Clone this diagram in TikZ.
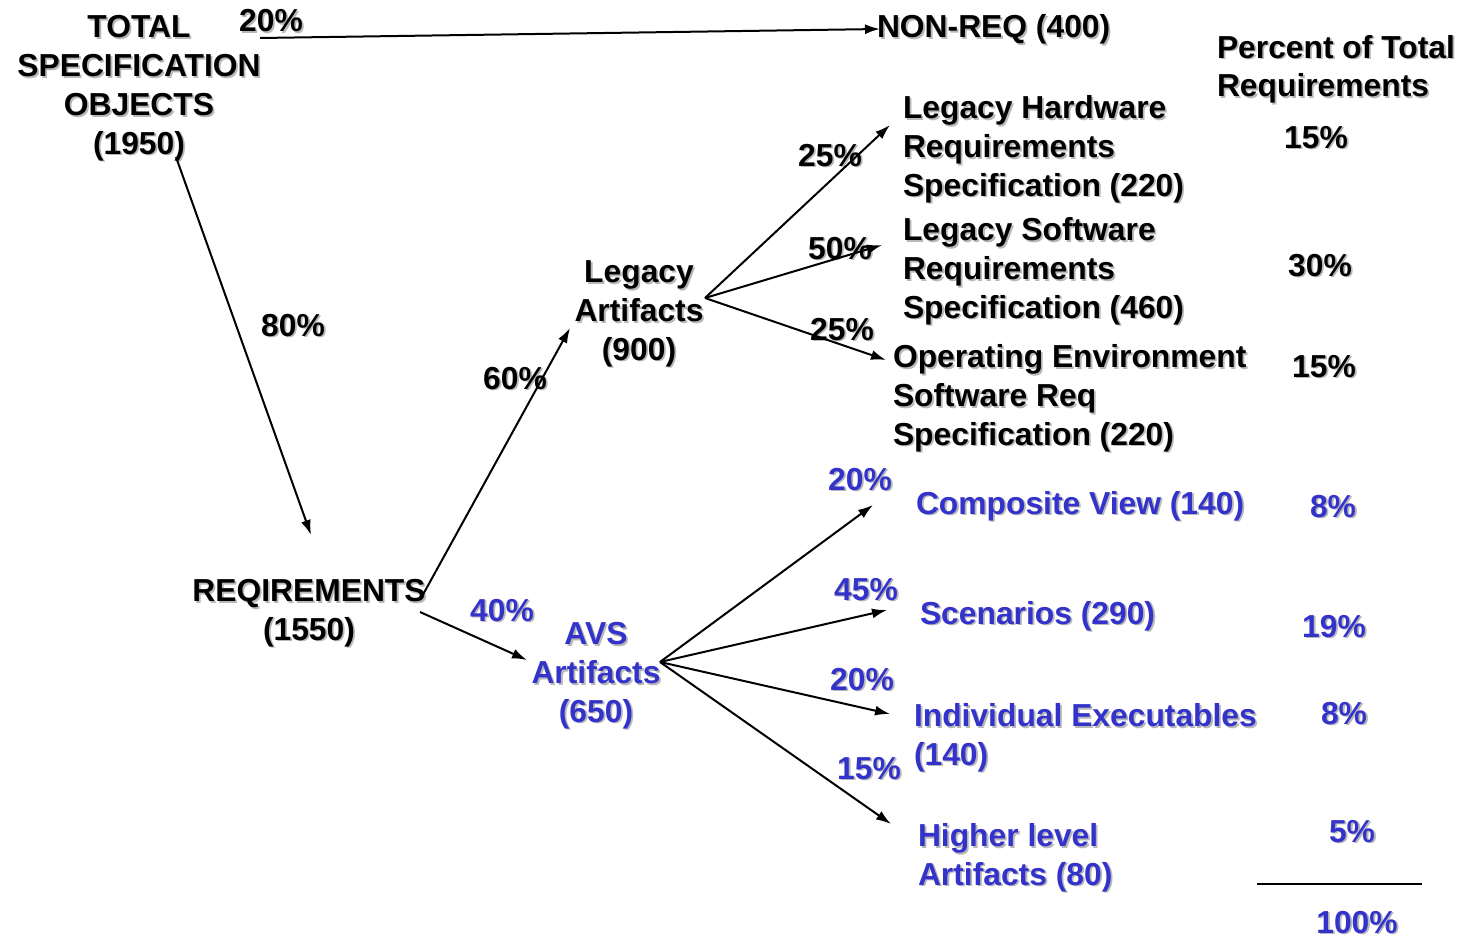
\documentclass[tikz,border=0pt]{standalone}
\usepackage{fontspec}
\setmainfont{Liberation Sans}
\usetikzlibrary{arrows.meta}
\definecolor{avsblue}{HTML}{3333CC}
\definecolor{shadowgray}{gray}{0.72}
% text with a soft drop shadow
\newcommand\shd[1]{\makebox[0pt][l]{\kern1.8pt\raisebox{-1.8pt}{\color{shadowgray}#1}}#1}
\begin{document}
\begin{tikzpicture}[x=1pt,y=-1pt,
  every node/.style={inner sep=0pt,outer sep=0pt,font=\fontsize{31.8}{38.8}\selectfont\bfseries},
  ctr/.style={anchor=base,align=center},
  lft/.style={anchor=base west,align=left},
  blu/.style={text=avsblue},
  arr/.style={-{Latex[length=15pt,width=10pt]},line width=2pt}]
\useasboundingbox (0,0) rectangle (1466,939);

% root and top branch (multi-line nodes are placed by their last baseline)
\node[ctr] (tso) at (139,154) {\shd{TOTAL}\\\shd{SPECIFICATION}\\\shd{OBJECTS}\\\shd{(1950)}};
\node[ctr] (p20top) at (271,32) {\shd{20\%}};
\node[lft] (nonreq) at (877,38) {\shd{NON-REQ (400)}};
\node[lft] (pcthead) at (1217,97) {\shd{Percent of Total}\\\shd{Requirements}};

% requirements
\node[ctr] (p80) at (293,336) {\shd{80\%}};
\node[ctr] (req) at (309,640) {\shd{REQIREMENTS}\\\shd{(1550)}};
\node[ctr] (p60) at (515,389) {\shd{60\%}};
\node[ctr,blu] (p40) at (502,621) {\shd{40\%}};

% legacy and AVS groups
\node[ctr] (legacy) at (639,360) {\shd{Legacy}\\\shd{Artifacts}\\\shd{(900)}};
\node[ctr,blu] (avs) at (596,722) {\shd{AVS}\\\shd{Artifacts}\\\shd{(650)}};

% legacy leaves
\node[ctr] (p25a) at (830,166) {\shd{25\%}};
\node[ctr] (p50) at (840,259) {\shd{50\%}};
\node[ctr] (p25b) at (842,340) {\shd{25\%}};
\node[lft] (lhw) at (903,196) {\shd{Legacy Hardware}\\\shd{Requirements}\\\shd{Specification (220)}};
\node[lft] (lsw) at (903,318) {\shd{Legacy Software}\\\shd{Requirements}\\\shd{Specification (460)}};
\node[lft] (oes) at (893,445) {\shd{Operating Environment}\\\shd{Software Req}\\\shd{Specification (220)}};
\node[ctr] (r15a) at (1316,148) {\shd{15\%}};
\node[ctr] (r30) at (1320,276) {\shd{30\%}};
\node[ctr] (r15b) at (1324,377) {\shd{15\%}};

% AVS leaves
\node[ctr,blu] (p20b) at (860,490) {\shd{20\%}};
\node[ctr,blu] (p45) at (866,600) {\shd{45\%}};
\node[ctr,blu] (p20c) at (862,690) {\shd{20\%}};
\node[ctr,blu] (p15) at (869,779) {\shd{15\%}};
\node[lft,blu] (cv) at (916,514) {\shd{Composite View (140)}};
\node[lft,blu] (sc) at (920,624) {\shd{Scenarios (290)}};
\node[lft,blu] (ie) at (914,765) {\shd{Individual Executables}\\\shd{(140)}};
\node[lft,blu] (hl) at (918,885) {\shd{Higher level}\\\shd{Artifacts (80)}};
\node[ctr,blu] (r8a) at (1333,517) {\shd{8\%}};
\node[ctr,blu] (r19) at (1334,637) {\shd{19\%}};
\node[ctr,blu] (r8b) at (1344,724) {\shd{8\%}};
\node[ctr,blu] (r5) at (1352,842) {\shd{5\%}};
\node[ctr,blu] (r100) at (1357,933) {\shd{100\%}};

% connector end points
\coordinate (tsoR) at (260,38);
\coordinate (nonreqL) at (880,29);
\coordinate (tsoB) at (176,157);
\coordinate (reqT) at (311,535);
\coordinate (reqR1) at (420,600);
\coordinate (reqR2) at (420,612);
\coordinate (legL) at (570,328);
\coordinate (avsL) at (527,660);
\coordinate (legR) at (705,298);
\coordinate (lhwL) at (890,125);
\coordinate (lswL) at (882,245);
\coordinate (oesL) at (886,360);
\coordinate (avsR) at (660,662);
\coordinate (cvL) at (873,505);
\coordinate (scL) at (887,610);
\coordinate (ieL) at (890,714);
\coordinate (hlL) at (891,824);
\coordinate (sumL) at (1257,884);
\coordinate (sumR) at (1422,884);

\draw[arr] (tsoR) -- (nonreqL);
\draw[arr] (tsoB) -- (reqT);
\draw[arr] (reqR1) -- (legL);
\draw[arr] (reqR2) -- (avsL);
\draw[arr] (legR) -- (lhwL);
\draw[arr] (legR) -- (lswL);
\draw[arr] (legR) -- (oesL);
\draw[arr] (avsR) -- (cvL);
\draw[arr] (avsR) -- (scL);
\draw[arr] (avsR) -- (ieL);
\draw[arr] (avsR) -- (hlL);
\draw[line width=2pt] (sumL) -- (sumR);
\end{tikzpicture}
\end{document}
